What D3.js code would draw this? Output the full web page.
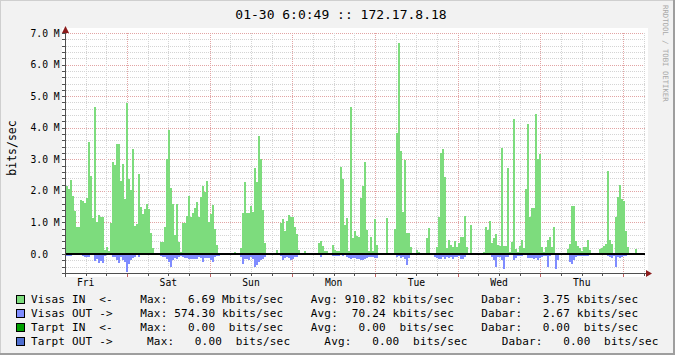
<!DOCTYPE html>
<html>
<head>
<meta charset="utf-8">
<script src="https://d3js.org/d3.v7.min.js"></script>
<style>
    body { margin: 0; background: #f2f2f2; }
    svg { display: block; }
    text { font-family: "DejaVu Sans Mono", monospace; fill: #000; }
</style>
</head>
<body>
<svg id="drawing_region"></svg>
<script>
// RRD graph: one week of traffic, one bar per consolidation step (values in Mbits/sec)
const startTime = Date.UTC(2004, 0, 23, 6, 17);
const endTime = Date.UTC(2004, 0, 30, 6, 17);

const visasIn = [
    2.15,2.05,2.34,1.84,1.37,0.87,0.85,1.71,1.69,1.63,
    1.76,3.55,2.47,1.13,4.65,1.0,1.24,1.18,1.18,0.13,
    0.21,0.1,0.99,2.91,2.82,3.48,3.48,2.32,2.85,1.73,
    4.79,2.37,2.03,3.32,0.89,0.95,2.53,1.5,1.27,1.44,
    1.58,1.44,0.68,0.19,0,0,0,0.39,0.39,0.87,
    3.0,3.93,2.08,1.58,0.6,1.58,0.39,0.07,0.99,0.99,
    1.2,1.84,1.18,1.31,1.47,1.65,1.18,1.82,2.15,1.95,
    2.31,1.02,1.27,1.55,0.79,0.28,0.04,0,0,0,
    0,0,0,0,0.07,0,0,0.18,1.31,2.28,
    1.31,1.31,1.52,1.33,2.73,2.28,3.74,3.0,1.41,0.34,
    0,0,0,0,0,0.13,0,0.99,1.1,0.74,
    1.06,1.24,1.16,1.16,0.87,0.65,0.13,0,0,0.1,
    0,0,0,0,0,0,0.34,0.42,0.25,0.1,
    0.1,0,0,0.28,0.13,0.1,0.1,2.77,2.39,0.92,
    1.15,0.1,4.65,0.5,0.73,0.57,0.55,1.76,2.15,2.91,
    0.76,0.1,0.53,0.1,1.1,0.28,0,0,0,0,
    1.13,0,0,0,0.78,3.82,6.69,3.27,1.34,2.98,
    0.68,0.68,0.21,0,0,0.13,0.06,0,0,0,
    0.5,0.82,0,0,0.04,0.23,1.18,3.21,3.33,2.43,
    0.18,0.44,0.28,0.23,0.42,0.21,0.34,0.55,0.55,1.2,
    0.21,0,0.91,0,0,0,0,0,0.07,0.87,
    0.76,1.06,0.34,0.5,0.63,0.29,0.25,3.35,0.25,0.25,
    2.71,0.07,0.38,4.27,0.15,0.07,0.27,0.44,0.2,2.05,
    4.12,1.18,1.46,1.46,4.43,3.0,3.17,0.23,0.06,0.23,
    0.44,0.53,0.23,0.87,0,0,0,0,0,0,
    0.15,0.32,1.52,1.52,0.4,0.25,0.18,0.1,0.23,0.23,
    0.44,0.13,0,0,0,0,0.15,0.18,0.25,0.32,
    2.64,0.44,0.32,0.02,1.18,1.8,2.19,1.73,1.69,0.72,
    0.23,0,0,0,0.16,0,0,0,0
];

const visasOut = [
    0.05,0.05,0.05,0.02,0.02,0.02,0.02,0.02,0.05,0.08,
    0.08,0.1,0.02,0,0.21,0.16,0.27,0.21,0.27,0.06,
    0.02,0,0.02,0.08,0.1,0.19,0.27,0.08,0.19,0.24,
    0.57,0.32,0.19,0.13,0.08,0.02,0.08,0.02,0,0,
    0,0,0,0,0,0,0,0.06,0.08,0.1,
    0.15,0.24,0.42,0.19,0.13,0.17,0.1,0.06,0.08,0.13,
    0.13,0.15,0.15,0.15,0.15,0.15,0.08,0.13,0.25,0.11,
    0.14,0.14,0.19,0.24,0.08,0.06,0.06,0,0,0,
    0,0,0,0,0,0,0,0.08,0.3,0.17,
    0.17,0.19,0.08,0.15,0.42,0.36,0.24,0.19,0.17,0.1,
    0,0,0,0,0,0,0,0.06,0.19,0.13,
    0.1,0.13,0.19,0.15,0.1,0.08,0.04,0,0,0,
    0,0,0,0,0,0,0.04,0.1,0.04,0,
    0,0,0,0.05,0.05,0.05,0.05,0.04,0.06,0.04,
    0.08,0.14,0.15,0.13,0.13,0.15,0.17,0.19,0.19,0.15,
    0.13,0.08,0.1,0.08,0.13,0.13,0,0.04,0,0,
    0,0,0,0,0.04,0.08,0.06,0.13,0.1,0.15,
    0.34,0.13,0.04,0,0,0.04,0.04,0,0,0,
    0,0,0,0,0.08,0.13,0.15,0.17,0.1,0.15,
    0.08,0.13,0.1,0.17,0.1,0.08,0.06,0.15,0.17,0.1,
    0.04,0.04,0,0,0,0,0,0,0.04,0.04,
    0.04,0.04,0.1,0.19,0.4,0.08,0.08,0.19,0.46,0.08,
    0.08,0.04,0.04,0.19,0.13,0.06,0.06,0.06,0.04,0.04,
    0.13,0.13,0.13,0.17,0.13,0.19,0.13,0.08,0.06,0.06,
    0.42,0.06,0.04,0.04,0.46,0.19,0,0,0,0,
    0.04,0.25,0.3,0.19,0.08,0.06,0.06,0.06,0.06,0.06,
    0.06,0.04,0,0,0,0,0.04,0.04,0.04,0.04,
    0.06,0.08,0.13,0.06,0.4,0.08,0.13,0.08,0.06,0.06,
    0.04,0,0,0,0,0,0,0,0
];

const yTicks = [0, 1, 2, 3, 4, 5, 6, 7];
const yTickLabels = ["0.0  ", "1.0 M", "2.0 M", "3.0 M", "4.0 M", "5.0 M", "6.0 M", "7.0 M"];
const dayLabels = ["Fri", "Sat", "Sun", "Mon", "Tue", "Wed", "Thu"];

const titleText = "01-30 6:0:49 :: 172.17.8.18";
const yLabelText = "bits/sec";
const watermarkText = "RRDTOOL / TOBI OETIKER";
const legendLines = [
    "Visas IN  <-    Max:   6.69 Mbits/sec    Avg: 910.82 kbits/sec    Dabar:   3.75 kbits/sec",
    "Visas OUT ->    Max: 574.30 kbits/sec    Avg:  70.24 kbits/sec    Dabar:   2.67 kbits/sec",
    "Tarpt IN  <-    Max:   0.00  bits/sec    Avg:   0.00  bits/sec    Dabar:   0.00  bits/sec",
    "Tarpt OUT ->     Max:   0.00  bits/sec     Avg:   0.00  bits/sec     Dabar:   0.00  bits/sec"
];

var config = {
    parent: '#drawing_region',
    width: 675,
    height: 355,
    plot: {left: 66, right: 644.7, top: 33, bottom: 273},
    colors: {
        inArea: '#7ddc7d', outArea: '#7f8cff',
        legend: ['#7ddc7d', '#7f8cff', '#00a000', '#4f6fd0']
    }
};

class RrdGraph {

    constructor( config ) {
        this.config = config;
        this.init();
    }

    init() {
        let self = this;
        const c = self.config;

        self.svg = d3.select( c.parent )
            .attr('width', c.width)
            .attr('height', c.height)
            .attr('shape-rendering', 'crispEdges');

        self.xscale = d3.scaleUtc()
            .domain( [startTime, endTime] )
            .range( [c.plot.left, c.plot.right] );

        self.yscale = d3.scaleLinear()
            .domain( [-0.6, 7] )
            .range( [c.plot.bottom, c.plot.top] );

        self.step = (endTime - startTime) / visasIn.length;
    }

    render() {
        let self = this;
        const c = self.config;
        const svg = self.svg;
        const px = v => Math.round(v) + 0.5;
        const x = self.xscale, y = self.yscale;

        // frame
        svg.append('rect').attr('width', c.width).attr('height', c.height).attr('fill', '#f2f2f2');
        svg.append('path').attr('d', `M0.5,${c.height} V0.5 H${c.width}`)
            .attr('stroke', '#cfcfcf').attr('fill', 'none');
        svg.append('path').attr('d', `M0,${c.height - 1} H${c.width - 1} V0`)
            .attr('stroke', '#9e9e9e').attr('stroke-width', 2).attr('fill', 'none');

        // canvas
        svg.append('rect')
            .attr('x', 62).attr('y', 28)
            .attr('width', 586).attr('height', 249)
            .attr('fill', '#ffffff');

        const grid = svg.append('g');

        // horizontal grid
        const minorY = d3.range(-3, 36).map(k => k / 5).filter(v => Math.abs(v - Math.round(v)) > 1e-6);
        grid.selectAll('.hminor').data(minorY).enter().append('line')
            .attr('x1', c.plot.left).attr('x2', c.plot.right)
            .attr('y1', d => px(y(d))).attr('y2', d => px(y(d)))
            .attr('stroke', '#d4d4d4').attr('stroke-dasharray', '1,1');
        grid.selectAll('.hmajor').data(yTicks.filter(d => d > 0)).enter().append('line')
            .attr('x1', c.plot.left).attr('x2', c.plot.right)
            .attr('y1', d => px(y(d))).attr('y2', d => px(y(d)))
            .attr('stroke', '#e2a4a4').attr('stroke-dasharray', '1,1');

        // vertical grid
        const days = d3.utcDay.range(startTime, endTime);
        const minorX = d3.utcHour.every(6).range(startTime, endTime).filter(d => d.getUTCHours() !== 0);
        grid.selectAll('.vminor').data(minorX).enter().append('line')
            .attr('x1', d => px(x(d))).attr('x2', d => px(x(d)))
            .attr('y1', c.plot.top).attr('y2', c.plot.bottom)
            .attr('stroke', '#d4d4d4').attr('stroke-dasharray', '1,1');
        grid.selectAll('.vmajor').data(days).enter().append('line')
            .attr('x1', d => px(x(d))).attr('x2', d => px(x(d)))
            .attr('y1', c.plot.top).attr('y2', c.plot.bottom)
            .attr('stroke', '#e2a4a4').attr('stroke-dasharray', '1,1');

        // bars
        const bins = visasIn.map((v, i) => ({
            t0: startTime + i * self.step,
            t1: startTime + (i + 1) * self.step,
            vin: v,
            vout: visasOut[i]
        }));
        const x0 = d => Math.round(x(d.t0));
        const bw = d => Math.round(x(d.t1)) - Math.round(x(d.t0));
        const zero = Math.round(y(0));

        svg.append('g').selectAll('rect').data(bins.filter(d => d.vin > 0)).enter().append('rect')
            .attr('x', x0).attr('width', bw)
            .attr('y', d => Math.round(y(d.vin)))
            .attr('height', d => zero - Math.round(y(d.vin)))
            .attr('fill', c.colors.inArea);

        svg.append('g').selectAll('rect').data(bins.filter(d => d.vout > 0)).enter().append('rect')
            .attr('x', x0).attr('width', bw)
            .attr('y', zero)
            .attr('height', d => Math.round(y(-d.vout)) - zero)
            .attr('fill', c.colors.outArea);

        // zero rule
        svg.append('rect')
            .attr('x', c.plot.left).attr('y', zero - 1)
            .attr('width', c.plot.right - c.plot.left).attr('height', 2)
            .attr('fill', '#000');

        // axes
        const axis = svg.append('g').attr('stroke', '#505050');
        axis.append('line').attr('x1', 65.5).attr('x2', 65.5).attr('y1', 28).attr('y2', 277);
        axis.append('line').attr('x1', 62).attr('x2', 647).attr('y1', 273.5).attr('y2', 273.5);
        axis.selectAll('.yt').data(minorY.concat(yTicks)).enter().append('line')
            .attr('x1', 62).attr('x2', 65)
            .attr('y1', d => px(y(d))).attr('y2', d => px(y(d)));
        axis.selectAll('.xt').data(minorX).enter().append('line')
            .attr('x1', d => px(x(d))).attr('x2', d => px(x(d)))
            .attr('y1', 274).attr('y2', 276);
        axis.selectAll('.xT').data(days).enter().append('line')
            .attr('x1', d => px(x(d))).attr('x2', d => px(x(d)))
            .attr('y1', 274).attr('y2', 277)
            .attr('stroke', '#c06060');

        // arrows
        svg.append('path').attr('d', 'M62,33 L69,33 L65.5,26 Z').attr('fill', '#8b1c1c')
            .attr('shape-rendering', 'auto');
        svg.append('path').attr('d', 'M646,270 L646,277 L652,273.5 Z').attr('fill', '#8b1c1c')
            .attr('shape-rendering', 'auto');

        // y tick labels
        svg.append('g').selectAll('text').data(yTicks).enter().append('text')
            .attr('x', 30.5)
            .attr('y', d => y(d) + 3.5)
            .attr('font-size', '9.7px')
            .style('white-space', 'pre')
            .text((d, i) => yTickLabels[i]);

        // x labels at noon
        const noons = days.map(d => d3.utcHour.offset(d, -12)).filter(d => d >= startTime);
        svg.append('g').selectAll('text').data(noons).enter().append('text')
            .attr('x', d => x(d))
            .attr('y', 286)
            .attr('text-anchor', 'middle')
            .attr('font-size', '9.7px')
            .text((d, i) => dayLabels[i]);

        // title
        svg.append('text')
            .attr('x', 341).attr('y', 18.5)
            .attr('text-anchor', 'middle')
            .attr('font-size', '13px')
            .text(titleText);

        // y label
        svg.append('text')
            .attr('transform', 'translate(16,148) rotate(-90)')
            .attr('text-anchor', 'middle')
            .attr('font-size', '11.5px')
            .text(yLabelText);

        // watermark
        svg.append('text')
            .attr('transform', 'translate(663,5) rotate(90)')
            .attr('font-size', '7.3px')
            .style('fill', '#a8a8a8')
            .text(watermarkText);

        // legend
        const legend = svg.append('g');
        legendLines.forEach((line, i) => {
            const cy = 299.3 + i * 14;
            legend.append('rect')
                .attr('x', 16.5).attr('y', Math.round(cy - 4.5) + 0.5)
                .attr('width', 8).attr('height', 8)
                .attr('fill', c.colors.legend[i])
                .attr('stroke', '#000');
            legend.append('text')
                .attr('x', 31).attr('y', cy + 4)
                .attr('font-size', '11px')
                .attr('letter-spacing', '0.2px')
                .style('white-space', 'pre')
                .text(line);
        });
    }
}

const graph = new RrdGraph( config );
graph.render();
</script>
</body>
</html>
